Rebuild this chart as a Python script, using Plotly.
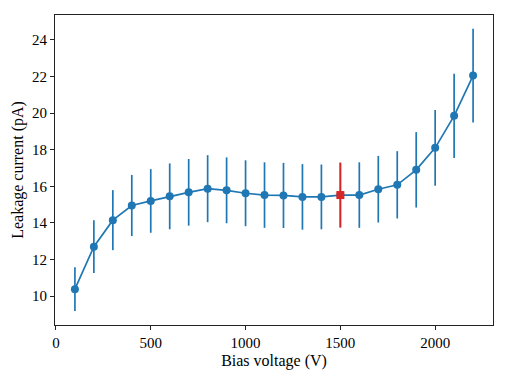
import plotly.graph_objects as go

# Bias scan, values
bias_v = [100, 200, 300, 400, 500, 600, 700, 800, 900, 1000, 1100,
          1200, 1300, 1400, 1500, 1600, 1700, 1800, 1900, 2000, 2100, 2200]
current_pa = [10.38, 12.70, 14.15, 14.95, 15.20, 15.45, 15.67, 15.87, 15.78, 15.62, 15.52,
              15.50, 15.42, 15.42, 15.52, 15.52, 15.84, 16.08, 16.90, 18.10, 19.85, 22.05]
current_err = [1.20, 1.44, 1.64, 1.67, 1.74, 1.80, 1.82, 1.83, 1.80, 1.80, 1.79,
               1.78, 1.79, 1.77, 1.77, 1.79, 1.82, 1.84, 2.06, 2.07, 2.30, 2.56]

# operating point highlighted in red
op_bias = [1500]
op_current = [15.52]
op_err = [1.77]

blue = "#1f77b4"
red = "#d62728"
font = "Liberation Serif, DejaVu Serif, serif"

fig = go.Figure()

fig.add_trace(go.Scatter(
    x=bias_v, y=current_pa,
    mode="lines+markers",
    line=dict(color=blue, width=1.7),
    marker=dict(color=blue, size=8, symbol="circle"),
    error_y=dict(type="data", array=current_err, color=blue, thickness=1.7, width=0),
    showlegend=False,
))

fig.add_trace(go.Scatter(
    x=op_bias, y=op_current,
    mode="markers",
    marker=dict(color=red, size=8, symbol="square"),
    error_y=dict(type="data", array=op_err, color=red, thickness=1.7, width=0),
    showlegend=False,
))

axis_style = dict(
    showline=True, linecolor="#222222", linewidth=1.2, mirror=True,
    ticks="outside", ticklen=4, tickwidth=1, tickcolor="#222222",
    showgrid=False, zeroline=False, automargin=False,
    tickfont=dict(family=font, size=15, color="black"),
)

fig.update_layout(
    width=508, height=381,
    margin=dict(l=55, r=15, t=15, b=56),
    plot_bgcolor="white", paper_bgcolor="white",
    font=dict(family=font, size=15, color="black"),
    xaxis=dict(axis_style, range=[-5, 2305], tickvals=[0, 500, 1000, 1500, 2000],
               title=dict(text="Bias voltage (V)", standoff=4, font=dict(family=font, size=16))),
    yaxis=dict(axis_style, range=[8.42, 25.36], tickvals=[10, 12, 14, 16, 18, 20, 22, 24],
               title=dict(text="Leakage current (pA)", standoff=4, font=dict(family=font, size=16))),
)

# drop the browser's default body margin so the figure sits at the page corner
fig.write_html("out.html", config={"displayModeBar": False},
               post_script="document.body.style.margin='0';")
